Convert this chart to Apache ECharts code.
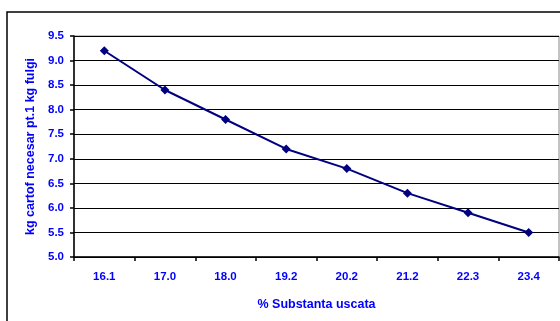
<!DOCTYPE html>
<html>
<head>
<meta charset="utf-8">
<script src="https://cdn.jsdelivr.net/npm/echarts@6/dist/echarts.min.js"></script>
<style>
  html, body { margin: 0; padding: 0; background: #fff; }
  #main { width: 560px; height: 321px; }
</style>
</head>
<body>
<div id="main"></div>
<script>
var myChart = echarts.init(document.getElementById('main'));

var categories = ['16.1', '17.0', '18.0', '19.2', '20.2', '21.2', '22.3', '23.4'];
var values = [9.2, 8.4, 7.8, 7.2, 6.8, 6.3, 5.9, 5.5];

var blue = '#0000ff';
var font = '"Liberation Sans", Arial, sans-serif';

option = {
    animation: false,
    backgroundColor: '#fff',
    grid: {
        left: 74,
        right: 1,
        top: 36,
        bottom: 64,
        show: true,
        borderColor: '#888',
        borderWidth: 1
    },
    graphic: [{
        // outer chart frame, runs off the right/bottom edge
        type: 'rect',
        shape: { x: 7, y: 12, width: 600, height: 400 },
        style: { fill: 'none', stroke: '#000', lineWidth: 1.5 },
        z: -1
    }],
    xAxis: {
        type: 'category',
        data: categories,
        boundaryGap: true,
        name: '% Substanta uscata',
        nameLocation: 'middle',
        nameGap: 41,
        nameTextStyle: { color: blue, fontFamily: font, fontWeight: 'bold', fontSize: 12.5 },
        axisLine: { lineStyle: { color: '#000', width: 1.5 } },
        axisTick: { show: true, alignWithLabel: false, length: 4, lineStyle: { color: '#000', width: 1.5 } },
        axisLabel: { color: blue, fontFamily: font, fontWeight: 'bold', fontSize: 11.5, margin: 14 },
        splitLine: { show: false }
    },
    yAxis: {
        type: 'value',
        min: 5,
        max: 9.5,
        interval: 0.5,
        name: 'kg cartof necesar pt.1 kg fulgi',
        nameLocation: 'middle',
        nameGap: 36,
        nameTextStyle: { color: blue, fontFamily: font, fontWeight: 'bold', fontSize: 12.5 },
        axisLine: { show: true, lineStyle: { color: '#000', width: 1.5 } },
        axisTick: { show: true, length: 4, lineStyle: { color: '#000', width: 1.5 } },
        axisLabel: {
            color: blue, fontFamily: font, fontWeight: 'bold', fontSize: 11.5, margin: 10,
            formatter: function (v) { return v.toFixed(1); }
        },
        splitLine: { show: true, lineStyle: { color: '#000', width: 1.2 } }
    },
    series: [{
        type: 'line',
        data: values,
        symbol: 'diamond',
        symbolSize: 9,
        lineStyle: { color: '#000080', width: 2 },
        itemStyle: { color: '#000080' }
    }]
};

myChart.setOption(option);
</script>
</body>
</html>
